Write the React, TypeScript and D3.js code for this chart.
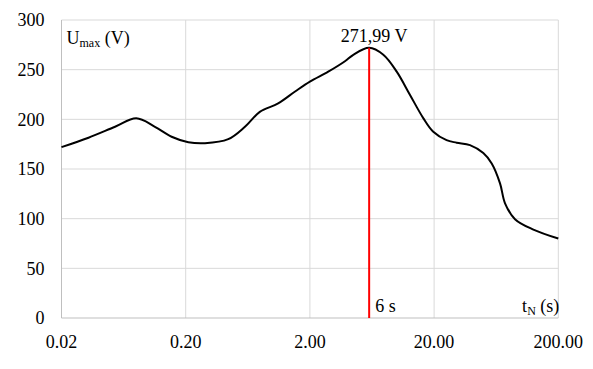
import React, { useEffect, useRef } from 'react';
import * as d3 from 'd3';

const tValues = [0.02, 0.033, 0.054, 0.08, 0.113, 0.154, 0.21, 0.286, 0.44, 0.6, 0.79, 1.11, 1.52, 2.0, 2.81, 3.83, 4.47, 6.0, 7.8, 10.0, 12.8, 16.4, 19.7, 25.2, 30.4, 38.9, 49.8, 58.2, 67.9, 74.5, 89.6, 126, 200];
const uValues = [172, 181.5, 192.5, 201, 192.5, 182.5, 177, 176, 180, 192.5, 207.5, 216, 228, 238, 248, 258.5, 265, 271.99, 265, 248, 224.5, 201, 187.5, 179, 176.5, 174, 166, 155.5, 135.5, 115.5, 99.5, 89, 80];
const xTicks = [0.02, 0.2, 2, 20, 200];
const yTicks = [0, 50, 100, 150, 200, 250, 300];
const peakT = 6;
const peakU = 271.99;
const peakLabel = '271,99 V';
const markerLabel = '6 s';

const W = 593;
const H = 369;
const margin = { top: 20, right: 34.7, bottom: 51, left: 61.5 };
const font = "Tinos, 'Liberation Serif', 'DejaVu Serif', serif";

export default function App() {
  const ref = useRef<SVGSVGElement>(null);

  useEffect(() => {
    if (!ref.current) return;
    const svg = d3.select(ref.current);
    svg.selectAll('*').remove();

    const w = W - margin.left - margin.right;
    const h = H - margin.top - margin.bottom;
    const x = d3.scaleLog().domain([0.02, 200]).range([0, w]);
    const y = d3.scaleLinear().domain([0, 300]).range([h, 0]);

    const g = svg.append('g').attr('transform', `translate(${margin.left},${margin.top})`);

    // grid
    g.selectAll('line.hg')
      .data(yTicks.filter((d) => d > 0))
      .enter()
      .append('line')
      .attr('x1', 0).attr('x2', w)
      .attr('y1', (d) => y(d)).attr('y2', (d) => y(d))
      .attr('stroke', '#d9d9d9').attr('stroke-width', 1);
    g.selectAll('line.vg')
      .data(xTicks.slice(1))
      .enter()
      .append('line')
      .attr('x1', (d) => x(d)).attr('x2', (d) => x(d))
      .attr('y1', 0).attr('y2', h)
      .attr('stroke', '#d9d9d9').attr('stroke-width', 1);

    // axes lines
    g.append('line').attr('x1', 0).attr('x2', 0).attr('y1', 0).attr('y2', h)
      .attr('stroke', '#bfbfbf').attr('stroke-width', 1);
    g.append('line').attr('x1', 0).attr('x2', w).attr('y1', h).attr('y2', h)
      .attr('stroke', '#bfbfbf').attr('stroke-width', 1);

    // tick labels
    g.selectAll('text.yl')
      .data(yTicks)
      .enter()
      .append('text')
      .attr('x', -17)
      .attr('y', (d) => y(d))
      .attr('dy', '0.35em')
      .attr('text-anchor', 'end')
      .style('font-family', font)
      .attr('font-size', 18)
      .attr('fill', '#000')
      .text((d) => d);
    g.selectAll('text.xl')
      .data(xTicks)
      .enter()
      .append('text')
      .attr('x', (d) => x(d))
      .attr('y', h + 30)
      .attr('text-anchor', 'middle')
      .style('font-family', font)
      .attr('font-size', 18)
      .attr('fill', '#000')
      .text((d) => d.toFixed(2));

    // curve
    const line = d3.line<number>()
      .x((_, i) => x(tValues[i]))
      .y((d) => y(d))
      .curve(d3.curveCatmullRom.alpha(0.5));
    g.append('path')
      .datum(uValues)
      .attr('fill', 'none')
      .attr('stroke', '#000')
      .attr('stroke-width', 2)
      .attr('stroke-linejoin', 'round')
      .attr('d', line);

    // marker
    g.append('line')
      .attr('x1', x(peakT)).attr('x2', x(peakT))
      .attr('y1', y(peakU)).attr('y2', h)
      .attr('stroke', '#ff0000').attr('stroke-width', 2);

    g.append('text')
      .attr('x', x(peakT) + 5)
      .attr('y', y(peakU) - 5.5)
      .attr('text-anchor', 'middle')
      .style('font-family', font)
      .attr('font-size', 18)
      .attr('fill', '#000')
      .text(peakLabel);
    g.append('text')
      .attr('x', x(peakT) + 6)
      .attr('y', h - 6.5)
      .style('font-family', font)
      .attr('font-size', 18)
      .attr('fill', '#000')
      .text(markerLabel);

    // axis titles
    const yt = g.append('text')
      .attr('x', 5)
      .attr('y', 23.5)
      .style('font-family', font)
      .attr('font-size', 18)
      .attr('fill', '#000');
    yt.append('tspan').text('U');
    yt.append('tspan').attr('font-size', 12).attr('dy', 3).text('max');
    yt.append('tspan').attr('dy', -3).text(' (V)');

    const xt = g.append('text')
      .attr('x', w + 1)
      .attr('y', h - 6.5)
      .attr('text-anchor', 'end')
      .style('font-family', font)
      .attr('font-size', 18)
      .attr('fill', '#000');
    xt.append('tspan').text('t');
    xt.append('tspan').attr('font-size', 12).attr('dy', 3).text('N');
    xt.append('tspan').attr('dy', -3).text(' (s)');
  }, []);

  return (
    <svg
      ref={ref}
      width={W}
      height={H}
      style={{ display: 'block', position: 'absolute', left: 0, top: 0, background: '#fff' }}
    />
  );
}
